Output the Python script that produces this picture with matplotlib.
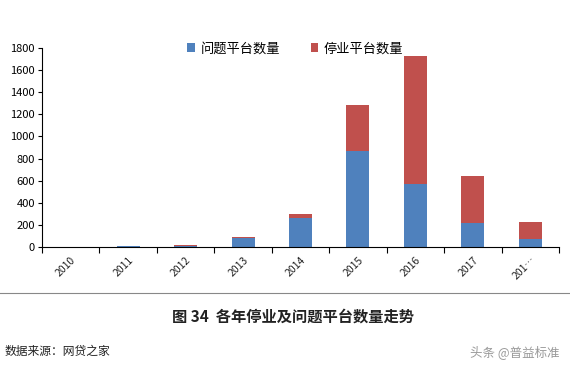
import matplotlib
matplotlib.use("Agg")
import matplotlib.pyplot as plt
import numpy as np

plt.rcParams["font.family"] = ["Noto Sans CJK SC", "DejaVu Sans"]

years = ["2010", "2011", "2012", "2013", "2014", "2015", "2016", "2017", "201…"]
problem = [0, 6, 6, 76, 262, 868, 566, 218, 70]
stopped = [0, 4, 5, 12, 37, 417, 1166, 426, 157]

BLUE = "#4F81BD"
RED = "#C0504D"

fig = plt.figure(figsize=(5.7, 3.67), dpi=100)
ax = fig.add_axes([42 / 570, 1 - 246.7 / 367, (559 - 42) / 570, (246.7 - 48.3) / 367])

x = np.arange(len(years))
ax.bar(x, problem, width=0.4, color=BLUE, label="问题平台数量", zorder=2)
ax.bar(x, stopped, width=0.4, bottom=problem, color=RED, label="停业平台数量", zorder=2)

ax.set_xlim(-0.5, len(years) - 0.5)
ax.set_ylim(0, 1800)
ax.set_yticks(range(0, 1801, 200))
ax.tick_params(axis="y", labelsize=8, length=3, width=0.8, pad=2)
ax.set_xticks(x)
ax.set_xticklabels(years, rotation=45, fontsize=7.5, ha="right", va="top",
                   rotation_mode="anchor", color="#222222")
ax.tick_params(axis="x", length=0, pad=6)
ax.set_xticks(np.arange(-0.5, len(years)), minor=True)
ax.tick_params(axis="x", which="minor", length=4, width=0.8)
for sp in ("top", "right"):
    ax.spines[sp].set_visible(False)

ax.legend(loc="upper center", bbox_to_anchor=(0.49, 1.09), ncol=2, frameon=False,
          fontsize=9.5, handlelength=0.6, handleheight=0.6, handletextpad=0.4,
          columnspacing=2.3)

# separator line and captions
fig.add_artist(plt.Line2D([0, 1], [1 - 293 / 367, 1 - 293 / 367], color="#888888", lw=0.8))
fig.text(293 / 570, 1 - 317 / 367, "图 34  各年停业及问题平台数量走势", ha="center", va="center",
         fontsize=11, fontweight="bold", color="#222222")
fig.text(5 / 570, 1 - 351 / 367, "数据来源：网贷之家", ha="left", va="center",
         fontsize=8.5, color="#222222")
fig.text(560 / 570, 1 - 352 / 367, "头条 @普益标准", ha="right", va="center",
         fontsize=9, color="#999999")

fig.savefig("out.png", dpi=100, facecolor="white")
